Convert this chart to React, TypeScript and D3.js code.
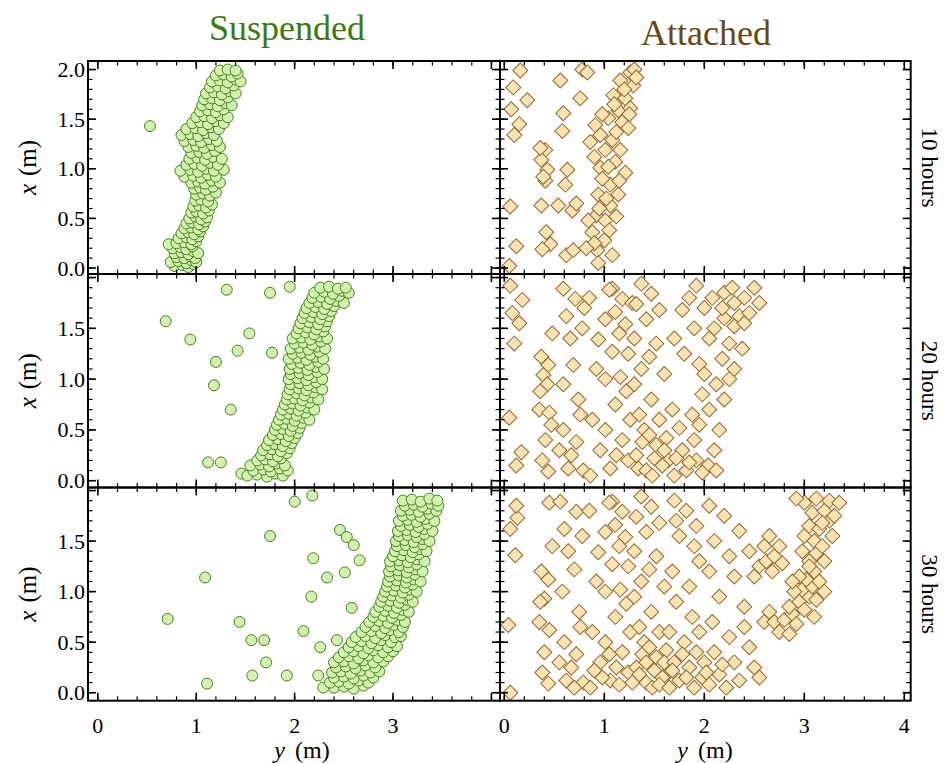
import * as d3 from "d3";

// each point is [y (m), x (m)] : horizontal, vertical
const suspended10: [number, number][] = [
  [0.78, 0.02], [0.86, 0.03], [0.92, 0.01], [0.97, 0.04],
  [0.74, 0.06], [0.82, 0.07], [0.9, 0.05], [0.95, 0.08], [1.0, 0.06],
  [0.8, 0.11], [0.88, 0.1], [0.94, 0.12], [0.99, 0.1],
  [0.78, 0.15], [0.85, 0.16], [0.92, 0.14], [0.97, 0.17], [1.02, 0.15],
  [0.76, 0.2], [0.84, 0.21], [0.9, 0.19], [0.96, 0.22],
  [0.72, 0.24], [0.8, 0.25], [0.88, 0.26], [0.95, 0.24], [1.0, 0.27],
  [0.82, 0.3], [0.9, 0.31], [0.96, 0.29], [1.02, 0.32],
  [0.85, 0.35], [0.92, 0.36], [0.98, 0.34], [1.04, 0.37],
  [0.88, 0.4], [0.95, 0.41], [1.02, 0.39], [1.07, 0.42],
  [0.9, 0.45], [0.96, 0.46], [1.03, 0.44], [1.09, 0.47],
  [0.93, 0.5], [0.99, 0.52], [1.05, 0.49], [1.11, 0.51],
  [0.95, 0.56], [1.0, 0.57], [1.07, 0.55], [1.13, 0.58],
  [0.97, 0.62], [1.03, 0.63], [1.1, 0.61], [1.16, 0.64],
  [0.99, 0.68], [1.05, 0.69], [1.12, 0.67],
  [1.0, 0.74], [1.07, 0.75], [1.14, 0.73], [1.2, 0.76],
  [0.98, 0.8], [1.04, 0.81], [1.1, 0.79], [1.17, 0.82],
  [0.95, 0.86], [1.02, 0.87], [1.09, 0.85], [1.16, 0.88], [1.24, 0.86],
  [0.88, 0.92], [0.97, 0.93], [1.05, 0.91], [1.12, 0.94], [1.2, 0.92],
  [0.84, 0.98], [0.94, 0.99], [1.02, 0.97], [1.1, 1.0], [1.18, 0.98], [1.28, 0.99],
  [0.9, 1.04], [0.98, 1.05], [1.06, 1.03], [1.14, 1.06], [1.22, 1.04],
  [0.93, 1.1], [1.01, 1.11], [1.09, 1.09], [1.17, 1.12], [1.26, 1.1],
  [0.95, 1.16], [1.03, 1.17], [1.11, 1.15], [1.19, 1.18],
  [0.92, 1.22], [1.0, 1.23], [1.08, 1.21], [1.16, 1.24], [1.24, 1.22],
  [0.88, 1.28], [0.97, 1.29], [1.05, 1.27], [1.13, 1.3], [1.21, 1.28],
  [0.85, 1.34], [0.94, 1.35], [1.02, 1.33], [1.1, 1.36], [1.18, 1.34],
  [0.9, 1.4], [0.99, 1.41], [1.07, 1.39], [1.15, 1.42], [1.23, 1.4],
  [0.53, 1.43],
  [0.96, 1.46], [1.04, 1.47], [1.12, 1.45], [1.2, 1.48], [1.28, 1.46],
  [1.0, 1.52], [1.08, 1.53], [1.16, 1.51], [1.24, 1.54], [1.32, 1.52],
  [1.04, 1.58], [1.12, 1.59], [1.2, 1.57], [1.28, 1.6],
  [1.06, 1.64], [1.14, 1.65], [1.22, 1.63], [1.3, 1.66], [1.36, 1.64],
  [1.08, 1.7], [1.16, 1.71], [1.24, 1.69], [1.32, 1.72],
  [1.1, 1.76], [1.18, 1.77], [1.26, 1.75], [1.34, 1.78], [1.4, 1.76],
  [1.14, 1.82], [1.22, 1.83], [1.3, 1.81], [1.38, 1.84],
  [1.16, 1.88], [1.24, 1.89], [1.32, 1.87], [1.4, 1.9], [1.45, 1.88],
  [1.2, 1.94], [1.28, 1.95], [1.36, 1.93], [1.42, 1.96],
  [1.24, 1.99], [1.32, 2.0], [1.4, 1.99],
];

const suspended20: [number, number][] = [
  [0.69, 1.57], [0.94, 1.39], [1.31, 1.88], [1.75, 1.85], [1.95, 1.91],
  [1.54, 1.45], [1.42, 1.28], [1.2, 1.17], [1.18, 0.94], [1.35, 0.7],
  [1.12, 0.18], [1.25, 0.18], [1.46, 0.07], [1.77, 1.26],
  [1.52, 0.05], [1.62, 0.06], [1.72, 0.04], [1.8, 0.07], [1.88, 0.05],
  [1.58, 0.1], [1.68, 0.11], [1.76, 0.09], [1.85, 0.12], [1.93, 0.1],
  [1.55, 0.15], [1.65, 0.16], [1.74, 0.14], [1.82, 0.17], [1.9, 0.15],
  [1.62, 0.2], [1.7, 0.21], [1.78, 0.19], [1.86, 0.22],
  [1.66, 0.25], [1.75, 0.26], [1.83, 0.24], [1.92, 0.27],
  [1.68, 0.3], [1.77, 0.31], [1.86, 0.29], [1.95, 0.32],
  [1.72, 0.35], [1.8, 0.36], [1.88, 0.34], [1.97, 0.37],
  [1.74, 0.4], [1.83, 0.41], [1.91, 0.39], [2.0, 0.42],
  [1.78, 0.45], [1.86, 0.46], [1.94, 0.44], [2.03, 0.47],
  [1.8, 0.5], [1.88, 0.51], [1.96, 0.49], [2.05, 0.52],
  [1.82, 0.55], [1.9, 0.56], [1.98, 0.54], [2.07, 0.57],
  [1.84, 0.6], [1.92, 0.61], [2.0, 0.59], [2.09, 0.62], [2.15, 0.6],
  [1.86, 0.65], [1.94, 0.66], [2.02, 0.64], [2.11, 0.67],
  [1.88, 0.7], [1.96, 0.71], [2.04, 0.69], [2.13, 0.72], [2.2, 0.7],
  [1.9, 0.75], [1.98, 0.76], [2.06, 0.74], [2.15, 0.77],
  [1.92, 0.8], [2.0, 0.81], [2.08, 0.79], [2.17, 0.82], [2.24, 0.8],
  [1.93, 0.85], [2.02, 0.86], [2.1, 0.84], [2.19, 0.87],
  [1.95, 0.9], [2.04, 0.91], [2.12, 0.89], [2.21, 0.92], [2.28, 0.9],
  [1.96, 0.95], [2.05, 0.96], [2.14, 0.94], [2.22, 0.97],
  [1.94, 1.0], [2.03, 1.01], [2.12, 0.99], [2.2, 1.02], [2.28, 1.0],
  [1.96, 1.05], [2.05, 1.06], [2.14, 1.04], [2.23, 1.07],
  [1.95, 1.1], [2.04, 1.11], [2.13, 1.09], [2.22, 1.12], [2.3, 1.1],
  [1.97, 1.15], [2.06, 1.16], [2.15, 1.14], [2.24, 1.17],
  [1.94, 1.2], [2.03, 1.21], [2.12, 1.19], [2.21, 1.22], [2.29, 1.2],
  [1.98, 1.25], [2.07, 1.26], [2.16, 1.24], [2.25, 1.27],
  [1.96, 1.3], [2.05, 1.31], [2.14, 1.29], [2.23, 1.32], [2.31, 1.3],
  [2.0, 1.35], [2.09, 1.36], [2.18, 1.34], [2.27, 1.37],
  [1.98, 1.4], [2.07, 1.41], [2.16, 1.39], [2.25, 1.42], [2.33, 1.4],
  [2.02, 1.45], [2.11, 1.46], [2.2, 1.44], [2.29, 1.47],
  [2.04, 1.5], [2.13, 1.51], [2.22, 1.49], [2.31, 1.52],
  [2.06, 1.55], [2.15, 1.56], [2.24, 1.54], [2.33, 1.57],
  [2.08, 1.6], [2.17, 1.61], [2.26, 1.59], [2.35, 1.62],
  [2.1, 1.65], [2.19, 1.66], [2.28, 1.64], [2.37, 1.67],
  [2.12, 1.7], [2.21, 1.71], [2.3, 1.69], [2.4, 1.72],
  [2.15, 1.75], [2.24, 1.76], [2.33, 1.74], [2.42, 1.77], [2.5, 1.75],
  [2.18, 1.8], [2.27, 1.81], [2.36, 1.79], [2.45, 1.82],
  [2.2, 1.85], [2.3, 1.86], [2.39, 1.84], [2.48, 1.87], [2.55, 1.85],
  [2.26, 1.9], [2.35, 1.91], [2.44, 1.89], [2.52, 1.9],
];

const suspended30: [number, number][] = [
  [2.0, 1.89], [2.18, 1.95], [1.75, 1.55], [1.09, 1.14], [0.71, 0.73],
  [1.44, 0.7], [1.56, 0.52], [1.69, 0.52], [1.71, 0.3], [1.11, 0.09],
  [1.57, 0.17], [1.92, 0.17], [2.24, 0.17], [2.29, 0.05], [2.09, 0.61],
  [2.26, 0.45], [2.17, 0.95], [2.33, 1.14], [2.19, 1.33], [2.46, 1.61],
  [2.53, 1.54], [2.6, 1.46], [2.66, 1.31], [2.51, 1.19], [2.58, 0.84],
  [2.43, 0.52],
  [2.4, 0.05], [2.5, 0.06], [2.6, 0.04], [2.7, 0.07],
  [2.36, 0.1], [2.45, 0.11], [2.55, 0.09], [2.65, 0.12], [2.75, 0.1],
  [2.4, 0.15], [2.5, 0.16], [2.6, 0.14], [2.7, 0.17], [2.8, 0.15],
  [2.38, 0.2], [2.47, 0.21], [2.57, 0.19], [2.67, 0.22], [2.77, 0.2], [2.86, 0.21],
  [2.42, 0.25], [2.52, 0.26], [2.62, 0.24], [2.72, 0.27], [2.82, 0.25],
  [2.4, 0.3], [2.5, 0.31], [2.6, 0.29], [2.7, 0.32], [2.8, 0.3], [2.9, 0.31],
  [2.45, 0.35], [2.55, 0.36], [2.65, 0.34], [2.75, 0.37], [2.85, 0.35], [2.95, 0.36],
  [2.5, 0.4], [2.6, 0.41], [2.7, 0.39], [2.8, 0.42], [2.9, 0.4], [3.0, 0.41],
  [2.55, 0.45], [2.65, 0.46], [2.75, 0.44], [2.85, 0.47], [2.95, 0.45], [3.04, 0.46],
  [2.58, 0.5], [2.68, 0.51], [2.78, 0.49], [2.88, 0.52], [2.98, 0.5],
  [2.62, 0.55], [2.72, 0.56], [2.82, 0.54], [2.92, 0.57], [3.02, 0.55], [3.08, 0.56],
  [2.68, 0.6], [2.78, 0.61], [2.88, 0.59], [2.97, 0.62], [3.06, 0.6],
  [2.72, 0.65], [2.82, 0.66], [2.92, 0.64], [3.01, 0.67], [3.1, 0.65],
  [2.76, 0.7], [2.86, 0.71], [2.95, 0.69], [3.04, 0.72], [3.12, 0.7],
  [2.8, 0.75], [2.9, 0.76], [2.99, 0.74], [3.08, 0.77],
  [2.82, 0.8], [2.92, 0.81], [3.01, 0.79], [3.1, 0.82], [3.16, 0.8],
  [2.86, 0.85], [2.95, 0.86], [3.04, 0.84], [3.12, 0.87],
  [2.88, 0.9], [2.97, 0.91], [3.06, 0.89], [3.14, 0.92], [3.2, 0.9],
  [2.9, 0.95], [2.99, 0.96], [3.08, 0.94], [3.16, 0.97],
  [2.92, 1.0], [3.01, 1.01], [3.1, 0.99], [3.18, 1.02], [3.24, 1.0],
  [2.94, 1.05], [3.03, 1.06], [3.12, 1.04], [3.2, 1.07],
  [2.95, 1.1], [3.04, 1.11], [3.13, 1.09], [3.21, 1.12], [3.28, 1.1],
  [2.97, 1.15], [3.06, 1.16], [3.14, 1.14], [3.22, 1.17],
  [2.96, 1.2], [3.05, 1.21], [3.14, 1.19], [3.23, 1.22], [3.3, 1.2],
  [2.98, 1.25], [3.07, 1.26], [3.16, 1.24], [3.24, 1.27],
  [2.97, 1.3], [3.06, 1.31], [3.15, 1.29], [3.24, 1.32], [3.32, 1.3],
  [3.0, 1.35], [3.09, 1.36], [3.18, 1.34], [3.26, 1.37],
  [3.02, 1.4], [3.11, 1.41], [3.2, 1.39], [3.28, 1.42], [3.34, 1.4],
  [3.04, 1.45], [3.13, 1.46], [3.22, 1.44], [3.3, 1.47],
  [3.03, 1.5], [3.12, 1.51], [3.21, 1.49], [3.3, 1.52], [3.37, 1.5],
  [3.06, 1.55], [3.15, 1.56], [3.24, 1.54], [3.32, 1.57],
  [3.05, 1.6], [3.14, 1.61], [3.23, 1.59], [3.32, 1.62], [3.4, 1.6],
  [3.08, 1.65], [3.17, 1.66], [3.26, 1.64], [3.35, 1.67],
  [3.06, 1.7], [3.15, 1.71], [3.24, 1.69], [3.33, 1.72], [3.42, 1.7],
  [3.1, 1.75], [3.19, 1.76], [3.28, 1.74], [3.37, 1.77],
  [3.08, 1.8], [3.17, 1.81], [3.26, 1.79], [3.35, 1.82], [3.44, 1.8],
  [3.12, 1.85], [3.21, 1.86], [3.3, 1.84], [3.39, 1.87], [3.46, 1.85],
  [3.1, 1.9], [3.19, 1.91], [3.28, 1.89], [3.37, 1.92], [3.45, 1.9],
];

const attached10: [number, number][] = [
  [0.16, 1.99], [0.09, 1.82], [0.23, 1.69], [0.07, 1.6], [0.15, 1.45], [0.1, 1.34],
  [0.06, 0.62], [0.05, 0.02], [0.12, 0.22],
  [0.41, 1.19], [0.37, 1.09], [0.43, 0.99], [0.41, 0.88], [0.37, 0.63], [0.42, 0.36],
  [0.46, 0.24], [0.38, 0.19], [0.39, 0.92], [0.36, 1.21],
  [0.56, 1.89], [0.78, 2.0], [0.83, 1.97], [0.59, 1.56], [0.76, 1.71], [0.63, 0.99],
  [0.61, 0.84], [0.54, 0.63], [0.68, 0.58], [0.62, 0.13], [0.69, 0.18], [0.58, 1.38],
  [0.72, 0.65],
  [1.26, 1.97], [1.16, 1.89], [1.29, 1.84], [1.09, 1.74], [1.21, 1.71], [1.14, 1.59],
  [1.26, 1.61], [1.04, 1.51], [1.18, 1.47], [0.91, 1.44], [0.96, 1.34], [1.08, 1.29],
  [1.24, 1.41], [0.86, 1.27], [1.01, 1.19], [1.16, 1.19], [1.11, 1.07], [0.96, 1.01],
  [1.21, 0.96], [1.06, 0.84], [0.94, 0.74], [1.14, 0.74], [1.06, 0.63], [0.92, 0.53],
  [1.01, 0.48], [0.88, 0.36], [1.0, 0.28], [0.93, 0.18], [1.08, 0.13], [0.94, 0.05],
  [1.3, 2.0], [1.2, 1.8], [1.1, 1.65], [0.98, 1.55], [1.12, 1.37], [0.9, 1.12],
  [1.04, 1.02], [1.15, 0.88], [0.98, 0.9], [1.02, 0.7], [0.95, 0.6], [0.84, 0.48],
  [0.9, 0.25], [1.05, 0.38], [0.82, 0.2], [1.12, 0.52], [1.25, 1.55], [1.32, 1.92],
];

const attached20: [number, number][] = [
  [0.08, 1.65], [0.15, 1.55], [0.1, 1.35], [0.05, 0.62], [0.12, 0.15], [0.17, 0.28],
  [0.06, 1.92], [0.18, 1.78],
  [0.37, 1.22], [0.44, 1.14], [0.39, 1.04], [0.43, 0.95], [0.35, 0.7], [0.45, 0.67],
  [0.41, 0.4], [0.38, 0.2], [0.44, 0.09], [0.48, 1.45], [0.36, 0.88], [0.47, 0.55],
  [0.59, 1.89], [0.71, 1.79], [0.62, 1.62], [0.69, 1.14], [0.59, 0.95], [0.74, 0.8],
  [0.59, 0.5], [0.76, 0.65], [0.67, 0.25], [0.79, 0.1], [0.66, 1.4], [0.78, 1.5],
  [0.55, 0.3], [0.72, 0.38], [0.8, 1.7], [0.64, 0.12],
  [1.08, 1.89], [1.18, 1.79], [1.11, 1.66], [1.21, 1.54], [1.01, 1.59], [0.94, 1.39],
  [1.08, 1.27], [1.24, 1.25], [1.01, 1.0], [1.16, 1.02], [1.11, 0.75], [1.26, 0.6],
  [1.01, 0.5], [1.18, 0.4], [1.24, 0.2], [1.06, 0.12], [1.34, 0.12], [0.88, 0.6],
  [0.92, 1.1], [0.85, 1.8], [1.15, 1.45], [1.22, 0.88], [0.96, 0.3], [1.12, 0.25],
  [0.86, 0.05], [1.05, 1.88], [1.28, 1.75],
  [1.37, 1.94], [1.47, 1.84], [1.32, 1.74], [1.42, 1.59], [1.3, 1.4], [1.52, 1.35],
  [1.37, 1.1], [1.6, 1.05], [1.47, 0.8], [1.4, 0.5], [1.52, 0.35], [1.32, 0.25],
  [1.64, 0.2], [1.42, 0.1], [1.55, 0.6], [1.35, 0.65], [1.58, 0.15], [1.48, 0.05],
  [1.62, 0.42], [1.3, 0.95], [1.45, 1.22], [1.55, 1.68], [1.38, 0.38], [1.5, 0.22],
  [1.6, 0.3], [1.45, 0.45],
  [1.82, 0.1], [1.92, 0.2], [2.04, 0.15], [1.78, 0.3], [1.9, 0.4], [2.1, 0.3],
  [1.95, 0.55], [2.15, 0.5], [2.05, 0.7], [2.2, 0.8], [1.98, 0.85], [2.12, 0.95],
  [2.3, 1.1], [2.18, 1.2], [2.25, 1.35], [2.05, 1.4], [1.9, 1.5], [2.38, 1.3],
  [2.2, 1.6], [2.0, 1.7], [1.85, 1.8], [2.08, 1.8], [1.92, 1.92], [1.7, 0.05],
  [1.75, 0.52], [1.68, 0.7], [1.88, 0.65], [2.0, 1.05], [2.25, 1.0], [1.72, 0.22],
  [1.85, 0.18], [1.98, 0.08], [2.12, 0.1], [1.8, 1.25], [1.95, 1.15], [2.1, 1.5],
  [2.3, 1.52], [1.7, 1.4], [1.78, 1.68],
  [2.4, 1.8], [2.5, 1.9], [2.3, 1.75], [2.35, 1.62], [2.55, 1.75], [2.2, 1.85],
  [2.45, 1.65], [2.28, 1.9], [2.18, 1.7], [2.4, 1.55],
];

const attached30: [number, number][] = [
  [0.13, 1.73], [0.06, 1.62], [0.11, 1.36], [0.04, 0.67], [0.06, 0.0], [0.12, 1.85],
  [0.37, 1.2], [0.44, 1.12], [0.4, 0.93], [0.36, 0.9], [0.45, 0.62], [0.4, 0.4],
  [0.38, 0.2], [0.44, 0.09], [0.48, 1.45], [0.45, 1.88], [0.35, 0.7],
  [0.56, 1.89], [0.72, 1.79], [0.6, 1.62], [0.64, 1.4], [0.7, 1.22], [0.58, 1.0],
  [0.75, 0.8], [0.6, 0.5], [0.76, 0.65], [0.67, 0.25], [0.79, 0.1], [0.55, 0.3],
  [0.72, 0.38], [0.62, 0.12], [0.7, 0.05], [0.78, 1.55],
  [1.08, 1.89], [1.18, 1.79], [1.11, 1.66], [1.21, 1.54], [1.01, 1.59], [0.94, 1.39],
  [1.08, 1.27], [1.24, 1.25], [1.01, 1.0], [1.16, 1.02], [1.11, 0.75], [1.26, 0.6],
  [1.01, 0.5], [1.18, 0.4], [1.24, 0.2], [1.06, 0.12], [0.88, 0.6], [0.92, 1.1],
  [0.85, 1.8], [1.15, 1.45], [1.22, 0.88], [0.96, 0.3], [1.12, 0.25], [0.86, 0.05],
  [1.05, 1.88], [0.98, 0.15], [1.15, 0.08], [1.05, 0.38], [0.9, 0.22],
  [1.37, 1.94], [1.47, 1.84], [1.32, 1.74], [1.42, 1.59], [1.3, 1.4], [1.52, 1.35],
  [1.37, 1.1], [1.6, 1.05], [1.47, 0.8], [1.4, 0.5], [1.52, 0.35], [1.32, 0.25],
  [1.64, 0.2], [1.42, 0.1], [1.55, 0.6], [1.35, 0.65], [1.58, 0.15], [1.48, 0.05],
  [1.62, 0.42], [1.3, 0.95], [1.45, 1.22], [1.55, 1.68], [1.38, 0.38], [1.5, 0.22],
  [1.6, 0.3], [1.45, 0.45], [1.28, 0.1], [1.35, 0.18], [1.55, 0.08], [1.42, 0.3],
  [1.7, 1.9], [1.82, 1.8], [1.75, 1.55], [1.9, 1.45], [1.68, 1.2], [1.85, 1.05],
  [1.95, 1.3], [1.72, 0.9], [1.88, 0.75], [1.65, 0.6], [1.8, 0.5], [1.92, 0.4],
  [1.7, 0.3], [1.85, 0.25], [1.98, 0.15], [1.75, 0.12], [1.65, 0.05], [1.9, 0.05],
  [1.78, 0.38], [1.95, 0.6], [1.82, 0.15], [1.68, 0.22], [2.0, 0.3], [1.92, 1.65],
  [1.72, 1.7],
  [2.05, 1.85], [2.2, 1.75], [2.35, 1.6], [2.1, 1.5], [2.25, 1.35], [2.45, 1.4],
  [2.05, 1.2], [2.3, 1.15], [2.15, 0.95], [2.4, 0.85], [2.08, 0.7], [2.25, 0.55],
  [2.45, 0.45], [2.1, 0.4], [2.3, 0.3], [2.5, 0.25], [2.15, 0.18], [2.35, 0.12],
  [2.05, 0.08], [2.22, 0.05], [2.55, 0.15], [2.4, 0.65], [2.6, 0.7], [2.55, 1.25],
  [2.6, 1.45], [2.5, 1.15], [2.18, 0.28], [2.02, 0.2],
  [2.62, 1.3], [2.7, 1.35], [2.68, 1.2], [2.78, 1.28], [2.75, 1.45], [2.65, 1.55],
  [2.7, 0.7], [2.8, 0.72], [2.88, 0.78], [2.92, 0.68], [2.85, 0.85], [2.95, 0.9],
  [3.0, 0.82], [3.05, 0.95], [2.98, 1.02], [3.08, 1.05], [3.12, 0.92], [2.9, 1.0],
  [3.02, 1.12], [3.1, 1.2], [2.95, 1.15], [3.15, 1.1], [3.05, 1.3], [2.98, 1.4],
  [3.12, 1.38], [3.0, 1.55], [3.1, 1.5], [3.18, 1.45], [3.05, 1.65], [3.15, 1.62],
  [3.25, 1.7], [3.08, 1.78], [3.2, 1.8], [3.3, 1.75], [3.0, 1.88], [3.12, 1.92],
  [3.25, 1.9], [3.35, 1.88], [2.92, 1.92], [3.05, 1.25], [3.2, 1.3], [2.88, 1.1],
  [3.1, 0.75], [3.2, 1.0], [2.75, 0.6], [2.65, 0.8], [2.85, 0.58], [3.28, 1.55],
  [3.18, 1.68],
];

const columnTitles = ["Suspended", "Attached"];
const rowTitles = ["10 hours", "20 hours", "30 hours"];
const yMajorTicks = [0, 0.5, 1.0, 1.5, 2.0];
const xMajorTicks = [0, 1, 2, 3, 4];
const yMinorTicks = d3.range(0, 21).map((i) => i / 10);
const xMinorTicks = d3.range(0, 21).map((i) => i / 5);

const panelData = [
  [suspended10, attached10],
  [suspended20, attached20],
  [suspended30, attached30],
];

const columns = [
  { x0: 88, x1: 500, domain: [-0.1, 4.087], xLabels: [0, 1, 2, 3] },
  { x0: 500, x1: 910.7, domain: [-0.043, 4.064], xLabels: [0, 1, 2, 3, 4] },
];
const rows = [
  { y0: 61, y1: 274, domain: [-0.06, 2.086], yLabels: [0, 0.5, 1.0, 1.5, 2.0] },
  { y0: 274, y1: 487.5, domain: [-0.067, 2.035], yLabels: [0, 0.5, 1.0, 1.5] },
  { y0: 487.5, y1: 700.7, domain: [-0.079, 2.03], yLabels: [0, 0.5, 1.0, 1.5] },
];

const FONT = "Liberation Serif, DejaVu Serif, serif";
const circleFill = "#d0f4b0";
const circleStroke = "#4c7e1a";
const diamondFill = "#fde2b2";
const diamondStroke = "#8d6a2c";
const MAJOR = 8;
const MINOR = 4.5;

function Panel({ r, c }: { r: number; c: number }) {
  const col = columns[c];
  const row = rows[r];
  const xs = d3.scaleLinear().domain(col.domain).range([col.x0, col.x1]);
  const ys = d3.scaleLinear().domain(row.domain).range([row.y1, row.y0]);
  const data = panelData[r][c];
  const clipId = `clip-${r}-${c}`;
  const diamond = d3.symbol(d3.symbolSquare, 112)() as string;
  const yMinor = yMinorTicks.filter((v) => ys(v) > row.y0 + 0.5 && ys(v) < row.y1 - 0.5);
  const xMinor = xMinorTicks.filter((v) => xs(v) > col.x0 + 0.5 && xs(v) < col.x1 - 0.5);
  const yMajor = yMajorTicks.filter((v) => ys(v) > row.y0 && ys(v) < row.y1);
  const xMajor = xMajorTicks.filter((v) => xs(v) > col.x0 && xs(v) < col.x1);
  return (
    <g>
      <defs>
        <clipPath id={clipId}>
          <rect x={col.x0} y={row.y0} width={col.x1 - col.x0} height={row.y1 - row.y0} />
        </clipPath>
      </defs>
      <g clipPath={`url(#${clipId})`}>
        {data.map(([y, x], i) =>
          c === 0 ? (
            <circle
              key={i}
              cx={xs(y)}
              cy={ys(x)}
              r={5.5}
              fill={circleFill}
              stroke={circleStroke}
              strokeWidth={1}
            />
          ) : (
            <path
              key={i}
              d={diamond}
              transform={`translate(${xs(y)},${ys(x)}) rotate(45)`}
              fill={diamondFill}
              stroke={diamondStroke}
              strokeWidth={1}
            />
          )
        )}
      </g>
      <g stroke="#000">
        {yMinor.map((v) => (
          <g key={`ym${v}`} strokeWidth={1.2}>
            <line x1={col.x0} x2={col.x0 + MINOR} y1={ys(v)} y2={ys(v)} />
            <line x1={col.x1} x2={col.x1 - MINOR} y1={ys(v)} y2={ys(v)} />
          </g>
        ))}
        {xMinor.map((v) => (
          <g key={`xm${v}`} strokeWidth={1.2}>
            <line y1={row.y0} y2={row.y0 + MINOR} x1={xs(v)} x2={xs(v)} />
            <line y1={row.y1} y2={row.y1 - MINOR} x1={xs(v)} x2={xs(v)} />
          </g>
        ))}
        {yMajor.map((v) => (
          <g key={`yM${v}`} strokeWidth={1.6}>
            <line x1={col.x0} x2={col.x0 + MAJOR} y1={ys(v)} y2={ys(v)} />
            <line x1={col.x1} x2={col.x1 - MAJOR} y1={ys(v)} y2={ys(v)} />
          </g>
        ))}
        {xMajor.map((v) => (
          <g key={`xM${v}`} strokeWidth={1.6}>
            <line y1={row.y0} y2={row.y0 + MAJOR} x1={xs(v)} x2={xs(v)} />
            <line y1={row.y1} y2={row.y1 - MAJOR} x1={xs(v)} x2={xs(v)} />
          </g>
        ))}
        <rect
          x={col.x0}
          y={row.y0}
          width={col.x1 - col.x0}
          height={row.y1 - row.y0}
          fill="none"
          strokeWidth={2}
        />
      </g>
      {c === 0 &&
        row.yLabels.map((v) => (
          <text
            key={`yl${v}`}
            x={col.x0 - 3}
            y={ys(v)}
            textAnchor="end"
            dominantBaseline="central"
            fontSize={22}
            style={{ fontFamily: FONT }}
          >
            {d3.format(".1f")(v)}
          </text>
        ))}
      {r === 2 &&
        col.xLabels.map((v) => (
          <text
            key={`xl${v}`}
            x={xs(v)}
            y={733}
            textAnchor="middle"
            fontSize={22}
            style={{ fontFamily: FONT }}
          >
            {v}
          </text>
        ))}
    </g>
  );
}

export default function App() {
  const rowCenters = rows.map((rw) => (rw.y0 + rw.y1) / 2);
  return (
    <svg
      width={944}
      height={763}
      style={{ position: "absolute", left: 0, top: 0, background: "#fff" }}
    >
      <rect width={944} height={763} fill="#fff" />
      {rows.map((_, r) =>
        columns.map((_, c) => <Panel key={`${r}-${c}`} r={r} c={c} />)
      )}
      <text x={287} y={40} textAnchor="middle" fontSize={36} style={{ fontFamily: FONT }} fill="#3d7a0e">
        {columnTitles[0]}
      </text>
      <text x={706} y={45} textAnchor="middle" fontSize={36} style={{ fontFamily: FONT }} fill="#6b4710">
        {columnTitles[1]}
      </text>
      {rowCenters.map((cy, i) => (
        <g key={`rl${i}`}>
          <text
            transform={`translate(36,${cy}) rotate(-90)`}
            textAnchor="middle"
            fontSize={25}
            style={{ fontFamily: FONT }}
          >
            <tspan fontStyle="italic">x</tspan>
            <tspan dx={8}>(m)</tspan>
          </text>
          <text
            transform={`translate(922,${cy}) rotate(90)`}
            textAnchor="middle"
            fontSize={23}
            style={{ fontFamily: FONT }}
          >
            {rowTitles[i]}
          </text>
        </g>
      ))}
      {[302, 705].map((cx, i) => (
        <text key={`xlab${i}`} x={cx} y={758} textAnchor="middle" fontSize={24} style={{ fontFamily: FONT }}>
          <tspan fontStyle="italic">y</tspan>
          <tspan dx={10}>(m)</tspan>
        </text>
      ))}
    </svg>
  );
}
